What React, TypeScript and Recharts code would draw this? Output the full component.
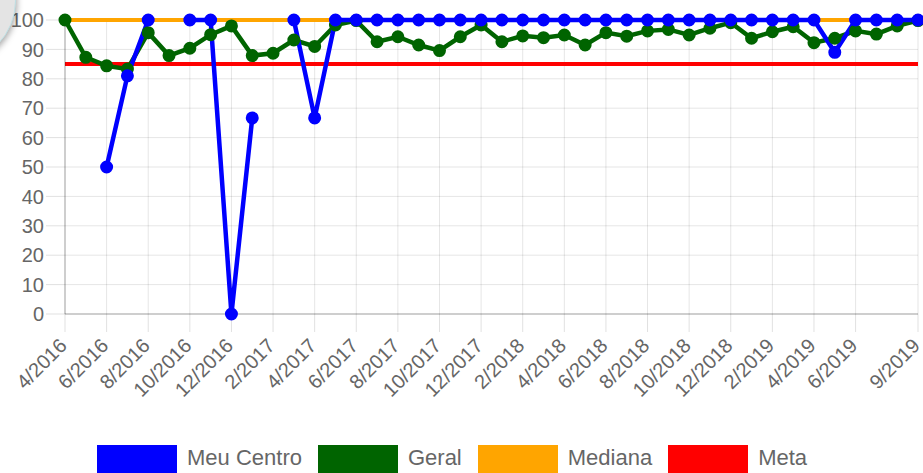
import {
  LineChart,
  Line,
  XAxis,
  YAxis,
  CartesianGrid,
  Legend,
} from "recharts";

const months = [
  "4/2016", "5/2016", "6/2016", "7/2016", "8/2016", "9/2016", "10/2016",
  "11/2016", "12/2016", "1/2017", "2/2017", "3/2017", "4/2017", "5/2017",
  "6/2017", "7/2017", "8/2017", "9/2017", "10/2017", "11/2017", "12/2017",
  "1/2018", "2/2018", "3/2018", "4/2018", "5/2018", "6/2018", "7/2018",
  "8/2018", "9/2018", "10/2018", "11/2018", "12/2018", "1/2019", "2/2019",
  "3/2019", "4/2019", "5/2019", "6/2019", "7/2019", "8/2019", "9/2019",
];

const xTicks = [
  "4/2016", "6/2016", "8/2016", "10/2016", "12/2016", "2/2017", "4/2017",
  "6/2017", "8/2017", "10/2017", "12/2017", "2/2018", "4/2018", "6/2018",
  "8/2018", "10/2018", "12/2018", "2/2019", "4/2019", "6/2019", "9/2019",
];

const yTicks = [0, 10, 20, 30, 40, 50, 60, 70, 80, 90, 100];

const meuCentro = [
  null, null, 50, 81, 100, null, 100, 100, 0, 66.7, null, 100, 66.7, 100,
  100, 100, 100, 100, 100, 100, 100, 100, 100, 100, 100, 100, 100, 100,
  100, 100, 100, 100, 100, 100, 100, 100, 100, 89, 100, 100, 100, 100,
];

const geral = [
  100, 87.3, 84.4, 83.3, 95.7, 87.9, 90.4, 95, 98, 87.9, 88.7, 93.2, 91, 98.3,
  99.8, 92.6, 94.3, 91.5, 89.6, 94.3, 98.3, 92.6, 94.6, 94, 94.9, 91.5, 95.7, 94.5,
  96.3, 96.8, 94.9, 97.2, 99.1, 93.8, 96, 97.7, 92.3, 93.8, 96.3, 95.2, 98, 99.8,
];

const mediana = [
  100, 100, 100, 100, 100, 100, 100, 100, 100, 100, 100, 100, 100, 100,
  100, 100, 100, 100, 100, 100, 100, 100, 100, 100, 100, 100, 100, 100,
  100, 100, 100, 100, 100, 100, 100, 100, 100, 100, 100, 100, 100, 100,
];

const meta = [
  85, 85, 85, 85, 85, 85, 85, 85, 85, 85, 85, 85, 85, 85,
  85, 85, 85, 85, 85, 85, 85, 85, 85, 85, 85, 85, 85, 85,
  85, 85, 85, 85, 85, 85, 85, 85, 85, 85, 85, 85, 85, 85,
];

const seriesInfo = [
  { name: "Meu Centro", color: "#0000ff" },
  { name: "Geral", color: "#006400" },
  { name: "Mediana", color: "#ffa500" },
  { name: "Meta", color: "#ff0000" },
];

const data = months.map((month, i) => ({
  month,
  meuCentro: meuCentro[i],
  geral: geral[i],
  mediana: mediana[i],
  meta: meta[i],
}));

const FONT = '"Liberation Sans", Arial, Helvetica, sans-serif';

function MonthTick({ x, y, payload }: any) {
  return (
    <g transform={`translate(${x + 3},${y + 13})`}>
      <text
        textAnchor="end"
        fill="#666"
        fontSize={20}
        fontFamily={FONT}
        transform="rotate(-45)"
      >
        {payload.value}
      </text>
    </g>
  );
}

function LegendBoxes() {
  return (
    <div
      style={{
        display: "flex",
        paddingLeft: 97,
        paddingTop: 12,
        fontFamily: FONT,
      }}
    >
      {seriesInfo.map((s) => (
        <div
          key={s.name}
          style={{ display: "flex", alignItems: "flex-start", marginRight: 16 }}
        >
          <div style={{ width: 80, height: 30, background: s.color }} />
          <span
            style={{
              marginLeft: 10,
              fontSize: 22,
              lineHeight: "26px",
              color: "#666",
            }}
          >
            {s.name}
          </span>
        </div>
      ))}
    </div>
  );
}

export default function App() {
  return (
    <div
      style={{
        position: "absolute",
        left: 0,
        top: 0,
        width: 923,
        height: 473,
        overflow: "hidden",
        background: "#fff",
      }}
    >
      <LineChart
        width={923}
        height={473}
        data={data}
        margin={{ top: 20, right: 5, bottom: 0, left: 0 }}
        style={{ fontFamily: FONT }}
      >
        <CartesianGrid stroke="rgba(0,0,0,0.1)" />
        <XAxis
          dataKey="month"
          ticks={xTicks}
          interval={0}
          height={119}
          tickSize={18}
          tick={<MonthTick />}
          axisLine={{ stroke: "rgba(0,0,0,0.3)" }}
          tickLine={{ stroke: "rgba(0,0,0,0.12)" }}
        />
        <YAxis
          domain={[0, 100]}
          ticks={yTicks}
          width={65}
          tickSize={19}
          tickMargin={2}
          tick={{ fill: "#666", fontSize: 20 }}
          axisLine={{ stroke: "rgba(0,0,0,0.3)" }}
          tickLine={{ stroke: "rgba(0,0,0,0.12)" }}
        />
        <Legend
          verticalAlign="bottom"
          height={40}
          content={<LegendBoxes />}
          wrapperStyle={{ left: 0, width: 923, height: 40, overflow: "visible" }}
        />
        <Line
          type="linear"
          dataKey="meta"
          name="Meta"
          stroke="#ff0000"
          strokeWidth={4}
          dot={false}
          activeDot={false}
          isAnimationActive={false}
        />
        <Line
          type="linear"
          dataKey="mediana"
          name="Mediana"
          stroke="#ffa500"
          strokeWidth={4}
          dot={false}
          activeDot={false}
          isAnimationActive={false}
        />
        <Line
          type="linear"
          dataKey="geral"
          name="Geral"
          stroke="#006400"
          strokeWidth={4.5}
          dot={{ r: 5.5, fill: "#006400", stroke: "#006400", strokeWidth: 2 }}
          activeDot={false}
          isAnimationActive={false}
        />
        <Line
          type="linear"
          dataKey="meuCentro"
          name="Meu Centro"
          stroke="#0000ff"
          strokeWidth={4.5}
          dot={{ r: 5.5, fill: "#0000ff", stroke: "#0000ff", strokeWidth: 2 }}
          activeDot={false}
          isAnimationActive={false}
        />
      </LineChart>
      <div
        style={{
          position: "absolute",
          left: -108,
          top: -61,
          width: 122,
          height: 122,
          borderRadius: "50%",
          background: "#e4e4e4",
          border: "1px solid #bfe0e4",
          boxShadow: "1px 2px 6px rgba(0,0,0,0.35)",
        }}
      />
    </div>
  );
}
